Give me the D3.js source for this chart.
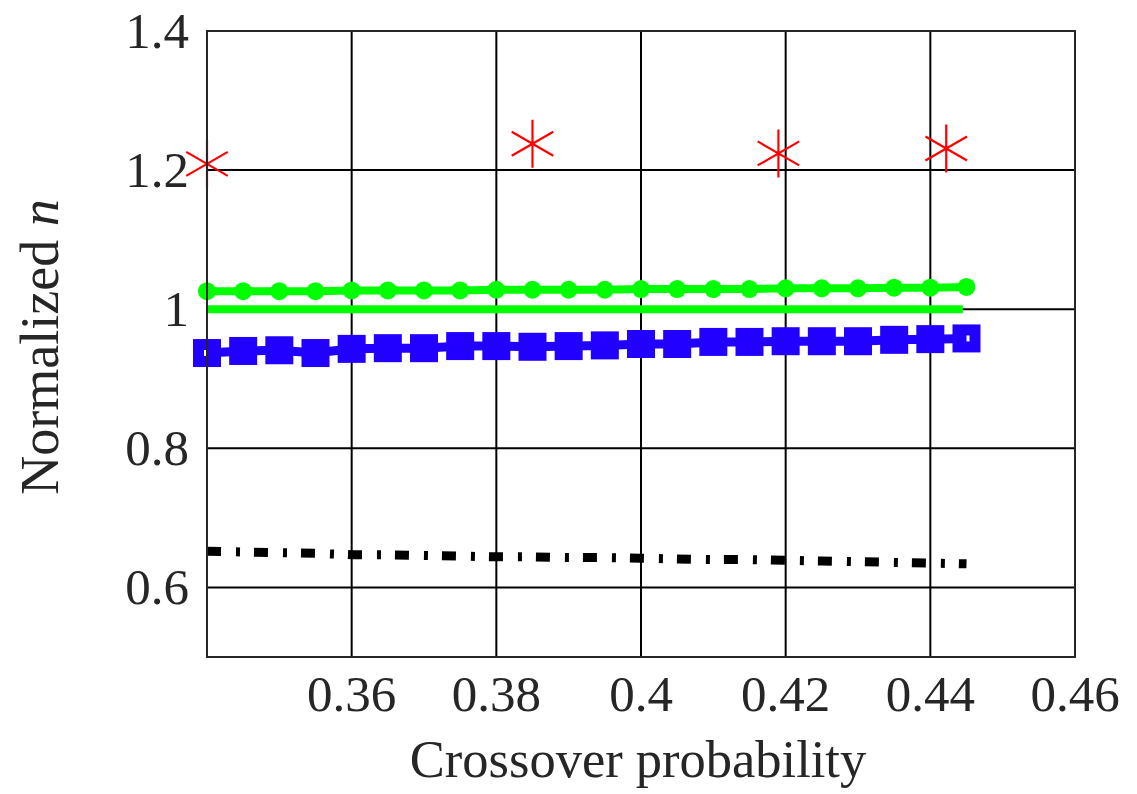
<!DOCTYPE html>
<html>
<head>
<meta charset="utf-8">
<script src="https://d3js.org/d3.v7.min.js"></script>
<style>
  body { margin: 0; background: #fff; }
  svg { display: block; }
  text { font-family: "Liberation Serif", "DejaVu Serif", serif; fill: #262626; }
</style>
</head>
<body>
<script>
// data
const xs = [0.34, 0.345, 0.35, 0.355, 0.36, 0.365, 0.37, 0.375, 0.38, 0.385, 0.39,
  0.395, 0.4, 0.405, 0.41, 0.415, 0.42, 0.425, 0.43, 0.435, 0.44, 0.445];
const greenDots = [1.026, 1.026, 1.026, 1.026, 1.027, 1.027, 1.027, 1.027, 1.028, 1.028, 1.028,
  1.028, 1.029, 1.029, 1.029, 1.029, 1.030, 1.030, 1.030, 1.031, 1.031, 1.032];
const greenFlat = [1.0, 1.0];
const greenFlatX = [0.34, 0.4445];
const blueSquares = [0.937, 0.940, 0.941, 0.937, 0.943, 0.944, 0.944, 0.947, 0.947, 0.946, 0.947,
  0.948, 0.950, 0.950, 0.953, 0.953, 0.954, 0.954, 0.954, 0.956, 0.957, 0.958];
const blackDashDot = [0.652, 0.651, 0.650, 0.649, 0.647, 0.647, 0.646, 0.645, 0.644, 0.644, 0.643,
  0.643, 0.642, 0.641, 0.640, 0.640, 0.639, 0.638, 0.637, 0.636, 0.635, 0.634];
const starX = [0.34, 0.385, 0.419, 0.4422];
const starY = [1.209, 1.238, 1.224, 1.231];

const xTicks = [0.36, 0.38, 0.4, 0.42, 0.44, 0.46];
const yTicks = [0.6, 0.8, 1.0, 1.2, 1.4];

// layout
const width = 1137;
const height = 794;
const plotLeft = 207, plotRight = 1075, plotTop = 31, plotBottom = 657;

const x = d3.scaleLinear().domain([0.34, 0.46]).range([plotLeft, plotRight]);
const y = d3.scaleLinear().domain([0.5, 1.4]).range([plotBottom, plotTop]);

const svg = d3.select("body").append("svg")
  .attr("width", width)
  .attr("height", height);

// grid
svg.append("g")
  .selectAll("line")
  .data(xTicks.slice(0, -1))
  .enter()
  .append("line")
  .attr("x1", d => x(d)).attr("x2", d => x(d))
  .attr("y1", plotTop).attr("y2", plotBottom)
  .attr("stroke", "#000").attr("stroke-width", 2);

svg.append("g")
  .selectAll("line")
  .data(yTicks.slice(0, -1))
  .enter()
  .append("line")
  .attr("x1", plotLeft).attr("x2", plotRight)
  .attr("y1", d => y(d)).attr("y2", d => y(d))
  .attr("stroke", "#000").attr("stroke-width", 2);

// tick labels
svg.append("g")
  .selectAll("text")
  .data(xTicks)
  .enter()
  .append("text")
  .attr("x", d => x(d))
  .attr("y", 711)
  .attr("text-anchor", "middle")
  .attr("font-size", 51)
  .text(d => d3.format("")(d));

svg.append("g")
  .selectAll("text")
  .data(yTicks)
  .enter()
  .append("text")
  .attr("x", 189)
  .attr("y", d => y(d) + 17)
  .attr("text-anchor", "end")
  .attr("font-size", 51)
  .text(d => d3.format("")(d));

// axis labels
svg.append("text")
  .attr("x", 638)
  .attr("y", 777)
  .attr("text-anchor", "middle")
  .attr("font-size", 52.5)
  .text("Crossover probability");

const yl = svg.append("text")
  .attr("transform", "translate(58, 347) rotate(-90)")
  .attr("text-anchor", "middle")
  .attr("font-size", 54);
yl.append("tspan").text("Normalized ");
yl.append("tspan").attr("font-style", "italic").text("n");

// lines
const line = d3.line().x(d => x(d[0])).y(d => y(d[1]));

svg.append("path")
  .datum(d3.zip(xs, blackDashDot))
  .attr("d", line)
  .attr("fill", "none")
  .attr("stroke", "#000")
  .attr("stroke-width", 9)
  .attr("stroke-dasharray", "14,15,4,14");

// blue squares
const blue = "#2200ff";
svg.append("g")
  .selectAll("rect")
  .data(d3.zip(xs, blueSquares))
  .enter()
  .append("rect")
  .attr("x", d => x(d[0]) - 8.5)
  .attr("y", d => y(d[1]) - 8.5)
  .attr("width", 17)
  .attr("height", 17)
  .attr("fill", "#fff")
  .attr("stroke", blue)
  .attr("stroke-width", 11);

svg.append("path")
  .datum(d3.zip(xs, blueSquares))
  .attr("d", line)
  .attr("fill", "none")
  .attr("stroke", blue)
  .attr("stroke-width", 9);

// green flat line
svg.append("path")
  .datum(d3.zip(greenFlatX, greenFlat))
  .attr("d", line)
  .attr("fill", "none")
  .attr("stroke", "#00ff00")
  .attr("stroke-width", 8);

// green dots
svg.append("path")
  .datum(d3.zip(xs, greenDots))
  .attr("d", line)
  .attr("fill", "none")
  .attr("stroke", "#00ff00")
  .attr("stroke-width", 8);

svg.append("g")
  .selectAll("circle")
  .data(d3.zip(xs, greenDots))
  .enter()
  .append("circle")
  .attr("cx", d => x(d[0]))
  .attr("cy", d => y(d[1]))
  .attr("r", 9)
  .attr("fill", "#00ff00");

// red stars
const starPath = (() => {
  const r = 24;
  let p = "";
  [90, 30, 150].forEach(a => {
    const dx = r * Math.cos(a * Math.PI / 180);
    const dy = r * Math.sin(a * Math.PI / 180);
    p += `M${-dx},${dy}L${dx},${-dy}`;
  });
  return p;
})();

svg.append("g")
  .selectAll("path")
  .data(d3.zip(starX, starY))
  .enter()
  .append("path")
  .attr("transform", d => `translate(${x(d[0])},${y(d[1])})`)
  .attr("d", starPath)
  .attr("fill", "none")
  .attr("stroke", "#ff0000")
  .attr("stroke-width", 2.2);

// axes box
svg.append("rect")
  .attr("x", plotLeft).attr("y", plotTop)
  .attr("width", plotRight - plotLeft).attr("height", plotBottom - plotTop)
  .attr("fill", "none")
  .attr("stroke", "#262626")
  .attr("stroke-width", 2);
</script>
</body>
</html>
